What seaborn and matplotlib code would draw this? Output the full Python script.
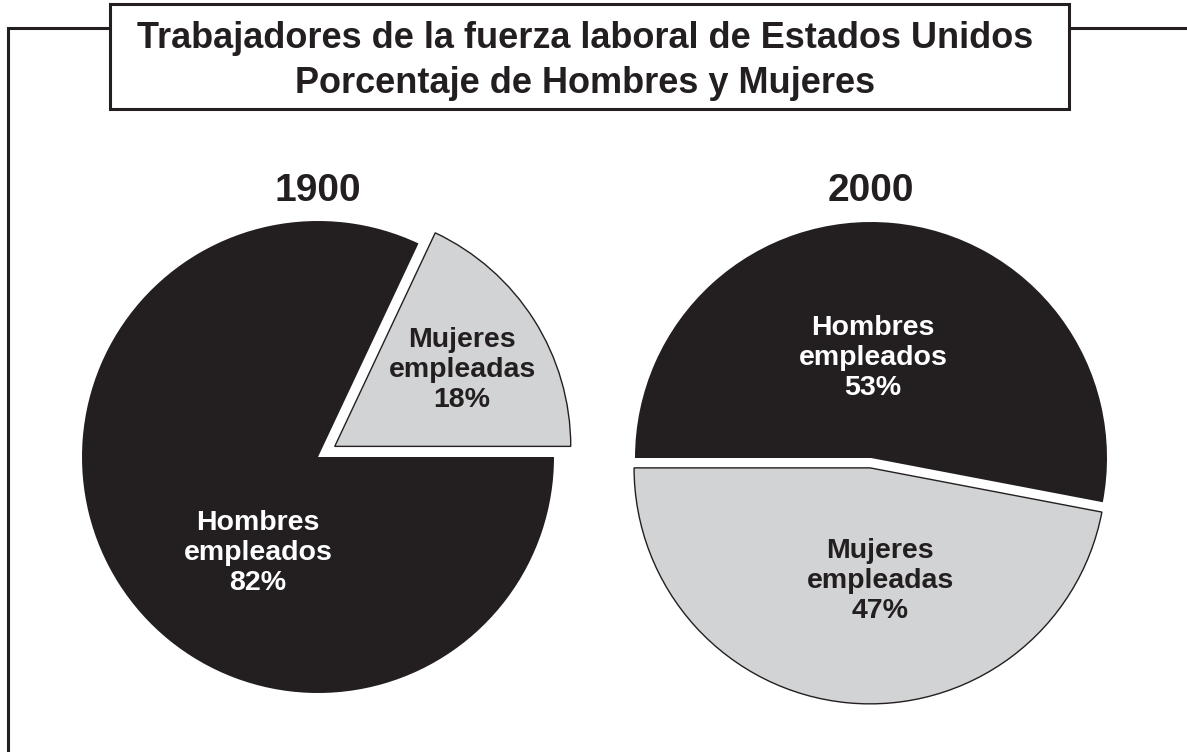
import matplotlib
matplotlib.use("Agg")
import matplotlib.pyplot as plt
import seaborn as sns
from matplotlib.patches import Rectangle

# ---- data ----
title_lines = ["Trabajadores de la fuerza laboral de Estados Unidos",
               "Porcentaje de Hombres y Mujeres"]
years = ["1900", "2000"]
men_label = "Hombres\nempleados"
women_label = "Mujeres\nempleadas"
men_pct = [82, 53]
women_pct = [18, 47]

sns.set_theme(style="white")
plt.rcParams['font.family'] = ['Liberation Sans', 'DejaVu Sans']

DARK = "#231f20"
LIGHT = "#d1d3d4"
W, H = 1187, 752

fig = plt.figure(figsize=(W / 100, H / 100), dpi=100)
fig.patch.set_facecolor("white")

# background / frame axes in pixel coordinates
bg = fig.add_axes([0, 0, 1, 1])
bg.set_xlim(0, W)
bg.set_ylim(H, 0)
bg.axis('off')
lw = 2.2
bg.plot([8, 8, 110], [H + 5, 28, 28], color=DARK, lw=lw,
        solid_joinstyle='miter', solid_capstyle='butt')
bg.plot([1069, W + 5], [28, 28], color=DARK, lw=lw, solid_capstyle='butt')
bg.add_patch(Rectangle((110, 4), 959, 105, facecolor="white",
                       edgecolor=DARK, lw=lw, joinstyle='miter'))
bg.text(585, 61, "\n".join(title_lines), ha='center', va='center',
        fontsize=26, fontweight='bold', color=DARK, linespacing=1.36)

# pies
centers = [(318, 457), (871, 458)]
R = 236
half = 250
starts = [0, 180]
explodes = [0.084, 0.042]
men_text_pos = [(258, 553), (873, 358)]
women_text_pos = [(462, 370), (880, 581)]

for i in range(2):
    cx, cy = centers[i]
    ax = fig.add_axes([(cx - half) / W, (H - cy - half) / H,
                       2 * half / W, 2 * half / H])
    wedges, _ = ax.pie([men_pct[i], women_pct[i]], colors=[DARK, LIGHT],
                       startangle=starts[i], counterclock=False,
                       explode=[0, explodes[i]], radius=1,
                       wedgeprops=dict(linewidth=0))
    wedges[0].set_edgecolor(DARK)
    wedges[0].set_linewidth(0)
    wedges[1].set_edgecolor(DARK)
    wedges[1].set_linewidth(1.0)
    lim = half / R
    ax.set_xlim(-lim, lim)
    ax.set_ylim(-lim, lim)
    ax.set_aspect('equal')
    ax.axis('off')

    fig.text(cx / W, 1 - 191 / H, years[i], ha='center', va='center',
             fontsize=28, fontweight='bold', color=DARK)
    mx, my = men_text_pos[i]
    fig.text(mx / W, 1 - my / H, f"{men_label}\n{men_pct[i]}%",
             ha='center', va='center', ma='center', fontsize=20.5,
             fontweight='bold', color='white', linespacing=1.22)
    wx, wy = women_text_pos[i]
    fig.text(wx / W, 1 - wy / H, f"{women_label}\n{women_pct[i]}%",
             ha='center', va='center', ma='center', fontsize=20.5,
             fontweight='bold', color=DARK, linespacing=1.22)

fig.savefig("out.png", dpi=100, facecolor="white")
